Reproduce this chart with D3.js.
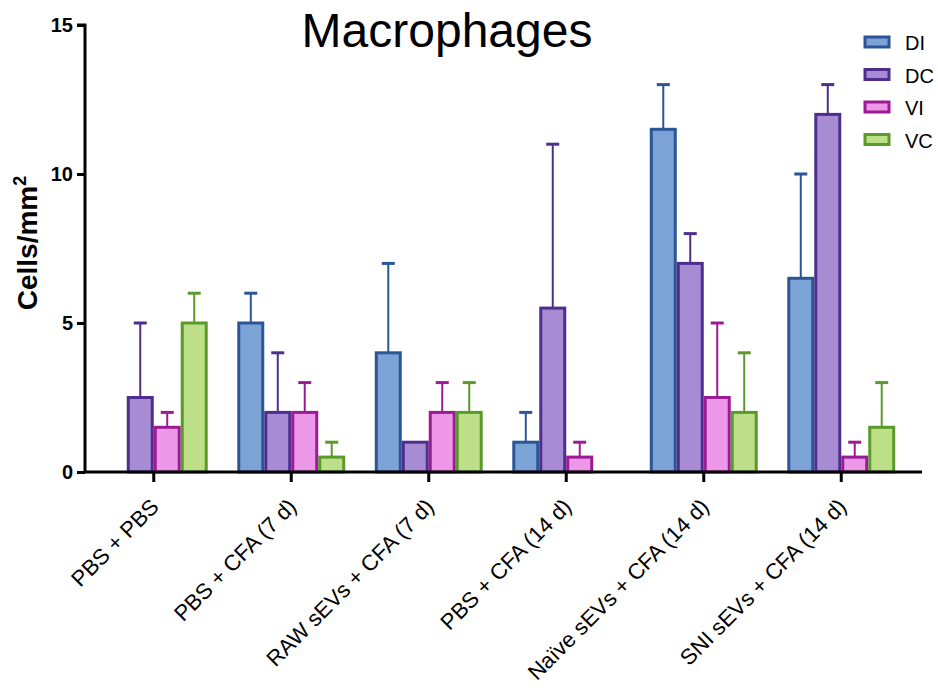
<!DOCTYPE html>
<html>
<head>
<meta charset="utf-8">
<script src="https://cdn.jsdelivr.net/npm/d3@7"></script>
<style>
	body { margin: 0; background: #fff; }
	text { font-family: Arial, "Liberation Sans", sans-serif; }
</style>
</head>
<body>
<div class="chart"></div>
<script>
const groups = ['PBS + PBS', 'PBS + CFA (7 d)', 'RAW sEVs + CFA (7 d)', 'PBS + CFA (14 d)', 'Naïve sEVs + CFA (14 d)', 'SNI sEVs + CFA (14 d)']
const series = ['DI', 'DC', 'VI', 'VC']
// means per series, one value per group
const DI = [0, 5, 4, 1, 11.5, 6.5]
const DC = [2.5, 2, 1, 5.5, 7, 12]
const VI = [1.5, 2, 2, 0.5, 2.5, 0.5]
const VC = [5, 0.5, 2, 0, 2, 1.5]
// upper end of the error bar
const DIerr = [0, 6, 7, 2, 13, 10]
const DCerr = [5, 4, 1, 11, 8, 13]
const VIerr = [2, 3, 3, 1, 5, 1]
const VCerr = [6, 1, 3, 0, 4, 3]
const yTicks = [0, 5, 10, 15]

const fills = { DI: '#7ca3d6', DC: '#a78bd3', VI: '#ec97e8', VC: '#bcdf87' }
const strokes = { DI: '#2b5597', DC: '#4e2d8d', VI: '#9a1b93', VC: '#5a9a2b' }

const means = { DI, DC, VI, VC }
const errs = { DI: DIerr, DC: DCerr, VI: VIerr, VC: VCerr }

const W = 938, H = 693
const svg = d3.select('.chart').append('svg')
	.attr('width', W).attr('height', H)

const x0 = d3.scaleBand().domain(groups).range([85, 910]).paddingInner(0.215).paddingOuter(0.1075)
const x1 = d3.scaleBand().domain(series).range([0, x0.bandwidth()]).padding(0)
const y = d3.scaleLinear().domain([0, 15]).range([472, 25])

const data = []
groups.forEach((g, i) => {
	series.forEach(s => data.push({ g, s, v: means[s][i], e: errs[s][i] }))
})

// error bars (upper only)
const eb = svg.append('g')
data.filter(d => d.e > d.v).forEach(d => {
	const cx = x0(d.g) + x1(d.s) + x1.bandwidth() / 2
	eb.append('line')
		.attr('x1', cx).attr('x2', cx)
		.attr('y1', y(d.v)).attr('y2', y(d.e))
		.attr('stroke', strokes[d.s]).attr('stroke-width', 2)
	eb.append('line')
		.attr('x1', cx - 6.5).attr('x2', cx + 6.5)
		.attr('y1', y(d.e)).attr('y2', y(d.e))
		.attr('stroke', strokes[d.s]).attr('stroke-width', 3)
})

// bars
svg.append('g').selectAll('rect')
	.data(data.filter(d => d.v > 0))
	.join('rect')
	.attr('x', d => x0(d.g) + x1(d.s) + 1.5)
	.attr('y', d => y(d.v))
	.attr('width', x1.bandwidth() - 3)
	.attr('height', d => y(0) - y(d.v))
	.attr('fill', d => fills[d.s])
	.attr('stroke', d => strokes[d.s])
	.attr('stroke-width', 3)

// y axis
const yAxis = svg.append('g')
	.attr('transform', 'translate(85,0)')
	.call(d3.axisLeft(y).tickValues(yTicks).tickSize(8).tickPadding(4))
yAxis.select('.domain').attr('stroke-width', 3).attr('d', `M-8,${y(15)}H0V${y(0)}`)
yAxis.selectAll('.tick line').attr('stroke-width', 3)
yAxis.selectAll('.tick text').attr('font-size', 20).attr('font-weight', 'bold').attr('fill', '#000')

// x axis
const xAxis = svg.append('g')
	.attr('transform', `translate(0,${y(0)})`)
	.call(d3.axisBottom(x0).tickSize(10).tickSizeOuter(0))
xAxis.select('.domain').attr('stroke-width', 3).attr('d', 'M85,0H922')
xAxis.selectAll('.tick line').attr('stroke-width', 3)
xAxis.selectAll('.tick text')
	.attr('font-size', 22).attr('fill', '#000')
	.attr('text-anchor', 'end')
	.attr('x', 0).attr('y', 0).attr('dy', 0)
	.attr('transform', 'translate(6.5,36) rotate(-45)')

// title
svg.append('text')
	.attr('x', 447).attr('y', 47)
	.attr('text-anchor', 'middle')
	.attr('font-size', 48)
	.text('Macrophages')

// y label
const yl = svg.append('text')
	.attr('transform', 'translate(37,243) rotate(-90)')
	.attr('text-anchor', 'middle')
	.attr('font-size', 28).attr('font-weight', 'bold')
yl.append('tspan').text('Cells/mm')
yl.append('tspan').attr('dy', -11).attr('font-size', 18).text('2')

// legend
const lg = svg.append('g').attr('transform', 'translate(865,37)')
series.forEach((s, i) => {
	const row = lg.append('g').attr('transform', `translate(0,${i * 32.5})`)
	row.append('rect').attr('x', 0).attr('y', 0).attr('width', 24).attr('height', 10)
		.attr('fill', fills[s]).attr('stroke', strokes[s]).attr('stroke-width', 3)
	row.append('text').attr('x', 40).attr('y', 13).attr('font-size', 20).text(s)
})
</script>
</body>
</html>
